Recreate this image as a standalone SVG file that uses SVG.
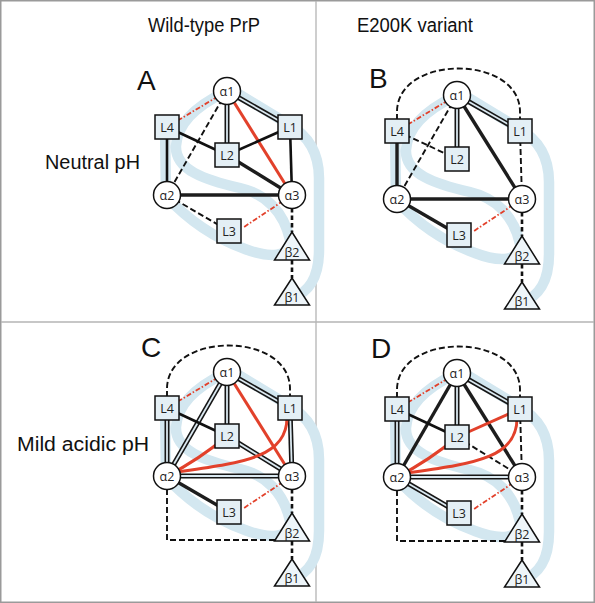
<svg xmlns="http://www.w3.org/2000/svg" xmlns:xlink="http://www.w3.org/1999/xlink" width="595" height="603" viewBox="0 0 595 603">
<style>
.frame{fill:#fff;stroke:#9a9a9a;stroke-width:1.5}
.div{stroke:#b4b4b4;stroke-width:1.3;fill:none}
.hdr{font-family:"Liberation Sans",Arial,sans-serif;font-size:20px;fill:#111}
.pl{font-family:"Liberation Sans",Arial,sans-serif;font-size:28px;fill:#111}
.rib{fill:none;stroke:#d3e7f0;stroke-width:10.5;stroke-linecap:round;stroke-linejoin:round}
.s{fill:none;stroke:#111;stroke-width:2.6}
.sk{fill:none;stroke:#1d1d1d;stroke-width:3.4}
.d{fill:none;stroke:#111;stroke-width:1.9;stroke-dasharray:6 3}
.db{fill:none;stroke:#111;stroke-width:2.6;stroke-dasharray:4.5 3}
.r{fill:none;stroke:#e2412b;stroke-width:3}
.rd{fill:none;stroke:#e2412b;stroke-width:1.8;stroke-dasharray:5 2 1.5 2}
.wo{fill:none;stroke:#161616;stroke-width:5}
.wi{fill:none;stroke:#dbe9f1;stroke-width:1.8}
.circ{fill:#fff;stroke:#111;stroke-width:1.5}
.sq{fill:#e4eff5;stroke:#111;stroke-width:1.5}
.tri{fill:#eef5f9;stroke:#111;stroke-width:1.5}
.nl{font-family:"Open Sans","DejaVu Sans",sans-serif;font-size:12.5px;fill:#222;text-anchor:middle}
</style>
<defs>
<g id="ribbon">
<path class="rib" d="M232,90 L288,124 C306,134 319,150 319,178 L319,250 C319,278 308,293 292,298"/>
<path class="rib" d="M225,92 C196,106 177,124 176,146 C175,170 205,180 240,188 C266,194 284,212 290,240 C292,258 268,258 245,249 C214,238 188,220 166,196 L165,126"/>
</g>
<g id="nodes">
<g id="a1"><circle class="circ" cx="227" cy="91" r="13.5"/><text class="nl" x="227" y="95.5">α1</text></g>
<g id="a2"><circle class="circ" cx="167" cy="195" r="13.5"/><text class="nl" x="167" y="199.5">α2</text></g>
<g id="a3"><circle class="circ" cx="292" cy="195" r="13.5"/><text class="nl" x="292" y="199.5">α3</text></g>
<g id="L4"><rect class="sq" x="155" y="115" width="24" height="24"/><text class="nl" x="167" y="131.5">L4</text></g>
<g id="L1"><rect class="sq" x="278" y="115" width="24" height="24"/><text class="nl" x="290" y="131.5">L1</text></g>
<g id="L2"><rect class="sq" x="215" y="143" width="24" height="24"/><text class="nl" x="227" y="159.5">L2</text></g>
<g id="L3"><rect class="sq" x="217" y="219" width="24" height="24"/><text class="nl" x="229" y="235.5">L3</text></g>
<g id="b2"><polygon class="tri" points="292,232 274.5,260 309.5,260"/><text class="nl" x="292" y="257">β2</text></g>
<g id="b1"><polygon class="tri" points="292,278 274.5,305 309.5,305"/><text class="nl" x="292" y="302">β1</text></g>
</g>
<path id="dome" class="d" d="M167,116 L167,108 C167,50 290,50 290,108 L290,116"/>
<path id="bottom" class="d" d="M167,208 L167,259 L278,259"/>
</defs>
<rect class="frame" x="0.75" y="0.75" width="593.5" height="601.5"/>
<line class="div" x1="316" y1="1" x2="316" y2="602"/>
<line class="div" x1="1" y1="322" x2="594" y2="322"/>
<text class="hdr" x="204" y="32" text-anchor="middle" textLength="112" lengthAdjust="spacingAndGlyphs">Wild-type PrP</text>
<text class="hdr" x="415" y="32" text-anchor="middle" textLength="116" lengthAdjust="spacingAndGlyphs">E200K variant</text>
<text class="hdr" x="45" y="169" textLength="95" lengthAdjust="spacingAndGlyphs">Neutral pH</text>
<text class="hdr" x="17" y="451" textLength="132" lengthAdjust="spacingAndGlyphs">Mild acidic pH</text>
<text class="pl" x="137" y="90">A</text>
<text class="pl" x="369" y="88">B</text>
<text class="pl" x="141" y="357">C</text>
<text class="pl" x="371" y="358">D</text>

<g id="panelA">
<use xlink:href="#ribbon"/>
<g id="connectorsA">
<path class="rd" d="M227,91 L167,127"/>
<path class="d" d="M227,91 L167,195"/>
<path class="wo" d="M227,91 L227,155"/><path class="wi" d="M227,91 L227,155"/>
<path class="wo" d="M227,91 L290,127"/><path class="wi" d="M227,91 L290,127"/>
<path class="r" d="M227,91 L292,195"/>
<path class="s" d="M167,127 L227,155"/>
<path class="s" d="M290,127 L227,155"/>
<path class="s" d="M290,127 L292,195"/>
<path class="s" d="M167,127 L167,195"/>
<path class="sk" d="M227,155 L292,195"/>
<path class="sk" d="M167,195 L292,195"/>
<path class="d" d="M167,195 L229,231"/>
<path class="rd" d="M292,195 L244,227"/>
<path class="db" d="M292,208 L292,232"/>
<path class="db" d="M292,260 L292,278"/>
</g>
<use xlink:href="#nodes"/>
</g>

<g id="panelB" transform="translate(230,4)">
<use xlink:href="#ribbon"/>
<g id="connectorsB">
<use xlink:href="#dome"/>
<path class="rd" d="M227,91 L167,127"/>
<path class="d" d="M227,91 L167,195"/>
<path class="wo" d="M227,91 L227,155"/><path class="wi" d="M227,91 L227,155"/>
<path class="wo" d="M227,91 L290,127"/><path class="wi" d="M227,91 L290,127"/>
<path class="sk" d="M227,91 L292,195"/>
<path class="d" d="M167,127 L227,155"/>
<path class="d" d="M290,127 L292,195"/>
<path class="sk" d="M167,127 L167,195"/>
<path class="sk" d="M167,195 L292,195"/>
<path class="sk" d="M167,195 L229,231"/>
<path class="rd" d="M292,195 L244,227"/>
<path class="db" d="M292,208 L292,232"/>
<path class="db" d="M292,260 L292,278"/>
</g>
<use xlink:href="#nodes"/>
</g>

<g id="panelC" transform="translate(0,281)">
<use xlink:href="#ribbon"/>
<g id="connectorsC">
<use xlink:href="#dome"/>
<use xlink:href="#bottom"/>
<path class="rd" d="M227,91 L167,127"/>
<path class="wo" d="M227,91 L167,195"/><path class="wi" d="M227,91 L167,195"/>
<path class="wo" d="M227,91 L227,155"/><path class="wi" d="M227,91 L227,155"/>
<path class="wo" d="M227,91 L290,127"/><path class="wi" d="M227,91 L290,127"/>
<path class="r" d="M227,91 L292,195"/>
<path class="s" d="M167,127 L227,155"/>
<path class="wo" d="M167,127 L167,195"/><path class="wi" d="M167,127 L167,195"/>
<path class="wo" d="M290,127 L292,195"/><path class="wi" d="M290,127 L292,195"/>
<path class="wo" d="M227,155 L292,195"/><path class="wi" d="M227,155 L292,195"/>
<path class="wo" d="M167,195 L292,195"/><path class="wi" d="M167,195 L292,195"/>
<path class="r" d="M227,155 Q200,178 167,195"/>
<path class="r" d="M287,135 C288,178 240,182 170,192"/>
<path class="sk" d="M167,195 L229,231"/>
<path class="rd" d="M292,195 L244,227"/>
<path class="db" d="M292,208 L292,232"/>
<path class="db" d="M292,260 L292,278"/>
</g>
<use xlink:href="#nodes"/>
</g>

<g id="panelD" transform="translate(230,282)">
<use xlink:href="#ribbon"/>
<g id="connectorsD">
<use xlink:href="#dome"/>
<use xlink:href="#bottom"/>
<path class="rd" d="M227,91 L167,127"/>
<path class="sk" d="M227,91 L167,195"/>
<path class="wo" d="M227,91 L227,155"/><path class="wi" d="M227,91 L227,155"/>
<path class="wo" d="M227,91 L290,127"/><path class="wi" d="M227,91 L290,127"/>
<path class="sk" d="M227,91 L292,195"/>
<path class="s" d="M167,127 L227,155"/>
<path class="wo" d="M167,127 L167,195"/><path class="wi" d="M167,127 L167,195"/>
<path class="d" d="M290,127 L292,195"/>
<path class="d" d="M227,155 L292,195"/>
<path class="wo" d="M167,195 L292,195"/><path class="wi" d="M167,195 L292,195"/>
<path class="wo" d="M167,195 L229,231"/><path class="wi" d="M167,195 L229,231"/>
<path class="r" d="M290,127 L227,155"/>
<path class="r" d="M227,155 Q200,178 167,195"/>
<path class="r" d="M287,135 C288,178 240,182 170,192"/>
<path class="rd" d="M292,195 L244,227"/>
<path class="db" d="M292,208 L292,232"/>
<path class="db" d="M292,260 L292,278"/>
</g>
<use xlink:href="#nodes"/>
</g>
</svg>
